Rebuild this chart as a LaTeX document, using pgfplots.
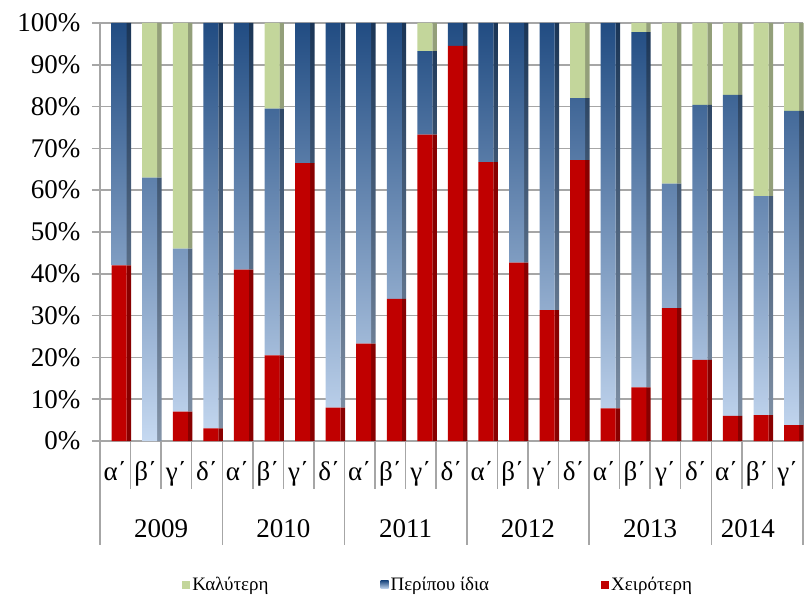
\documentclass[border=0pt]{standalone}
\usepackage{fontspec}
\setmainfont{Liberation Serif}
\usepackage{pgfplots}
\usepackage{pgfplotstable}
\pgfplotsset{compat=1.18}
\definecolor{cred}{HTML}{C00000}
\definecolor{credside}{HTML}{880000}
\definecolor{cgreen}{HTML}{C3D69B}
\definecolor{cgreenside}{HTML}{939F7A}
\definecolor{bdark}{HTML}{214C82}
\definecolor{blight}{HTML}{C6D9F1}
\definecolor{bmid}{HTML}{97ACCB}
\definecolor{bsdark}{HTML}{1A3556}
\definecolor{bslight}{HTML}{8494A8}
\definecolor{bsmid}{HTML}{64738A}
\definecolor{cgrid}{HTML}{A6A6A6}

\pgfplotstableread{
x red blue green
0 42 58 0
1 0 63 37
2 7 39 54
3 3 97 0
4 41 59 0
5 20.5 59 20.5
6 66.5 33.5 0
7 8 92 0
8 23.3 76.7 0
9 34 66 0
10 73.3 20 6.7
11 94.5 5.5 0
12 66.7 33.3 0
13 42.7 57.3 0
14 31.3 68.7 0
15 67.2 14.8 18
16 7.8 92.2 0
17 12.8 85 2.2
18 31.8 29.8 38.4
19 19.4 61 19.6
20 6 76.8 17.2
21 6.2 52.4 41.4
22 3.8 75.2 21
}\datatable

\pgfplotsset{common/.style={
 at={(0,0)}, anchor=south west,
 scale only axis, width=703pt, height=418pt,
 xmin=-0.5, xmax=22.5, ymin=0, ymax=100,
 clip=false}}

\begin{document}
\begin{tikzpicture}
\useasboundingbox (-100pt,-158pt) rectangle (710pt,441pt);
% back axis: grid, ticks, labels, side faces
\begin{axis}[common,
 ybar stacked, bar width=4.5pt, bar shift=13.6pt,
 axis x line*=bottom, axis y line*=left,
 axis line style={cgrid, line width=1.5pt, -},
 ymajorgrids, grid style={cgrid, line width=1.5pt},
 ytick={0,10,...,100},
 yticklabel={\pgfmathprintnumber{\tick}\%},
 ytick align=outside, major tick length=8pt,
 ytick style={cgrid, line width=1.5pt},
 xtick style={draw=none},
 /pgf/number format/assume math mode=true,
 yticklabel style={font=\fontsize{27}{30}\selectfont, xshift=-8pt},
 xtick={0,...,22},
 xticklabels={α΄,β΄,γ΄,δ΄,α΄,β΄,γ΄,δ΄,α΄,β΄,γ΄,δ΄,α΄,β΄,γ΄,δ΄,α΄,β΄,γ΄,δ΄,α΄,β΄,γ΄},
 typeset ticklabels with strut,
 xticklabel style={font=\fontsize{27}{30}\selectfont, yshift=-15pt},
]
\addplot[fill=credside, draw=none] table[x=x,y=red]{\datatable};
\addplot[draw=none, top color=bsdark, middle color=bsmid, bottom color=bslight] table[x=x,y=blue]{\datatable};
\addplot[fill=cgreenside, draw=none] table[x=x,y=green]{\datatable};

\pgfplotsinvokeforeach{0.5,1.5,2.5,4.5,5.5,6.5,8.5,9.5,10.5,12.5,13.5,14.5,16.5,17.5,18.5,20.5,21.5}{\draw[cgrid,line width=1.5pt] (axis cs:#1,0) -- ++(0pt,-48pt);}
\pgfplotsinvokeforeach{-0.5,3.5,7.5,11.5,15.5,19.5,22.5}{\draw[cgrid,line width=1.5pt] (axis cs:#1,0) -- ++(0pt,-104pt);}

\node[anchor=base, yshift=-96pt, font=\fontsize{27}{30}\selectfont] at (axis cs:1.5,0) {2009};
\node[anchor=base, yshift=-96pt, font=\fontsize{27}{30}\selectfont] at (axis cs:5.5,0) {2010};
\node[anchor=base, yshift=-96pt, font=\fontsize{27}{30}\selectfont] at (axis cs:9.5,0) {2011};
\node[anchor=base, yshift=-96pt, font=\fontsize{27}{30}\selectfont] at (axis cs:13.5,0) {2012};
\node[anchor=base, yshift=-96pt, font=\fontsize{27}{30}\selectfont] at (axis cs:17.5,0) {2013};
\node[anchor=base, yshift=-96pt, font=\fontsize{27}{30}\selectfont] at (axis cs:20.7,0) {2014};
\end{axis}
% front axis: front faces and legend
\begin{axis}[common, hide axis,
 ybar stacked, bar width=15pt, bar shift=3.9pt,
 legend columns=3, reverse legend,
 legend style={draw=none, fill=none, at={(0.481,-0.344)}, anchor=center,
   font=\fontsize{19}{22}\selectfont,
   /tikz/every even column/.append style={column sep=110pt}},
 legend image code/.code={\path[#1] (0pt,-4pt) rectangle (8pt,4pt);},
]
\addplot[fill=cred, draw=none] table[x=x,y=red]{\datatable};
\addlegendentry{Χειρότερη}
\addplot[draw=none, top color=bdark, middle color=bmid, bottom color=blight] table[x=x,y=blue]{\datatable};
\addlegendentry{Περίπου ίδια}
\addplot[fill=cgreen, draw=none] table[x=x,y=green]{\datatable};
\addlegendentry{Καλύτερη}
\end{axis}
\end{tikzpicture}
\end{document}
